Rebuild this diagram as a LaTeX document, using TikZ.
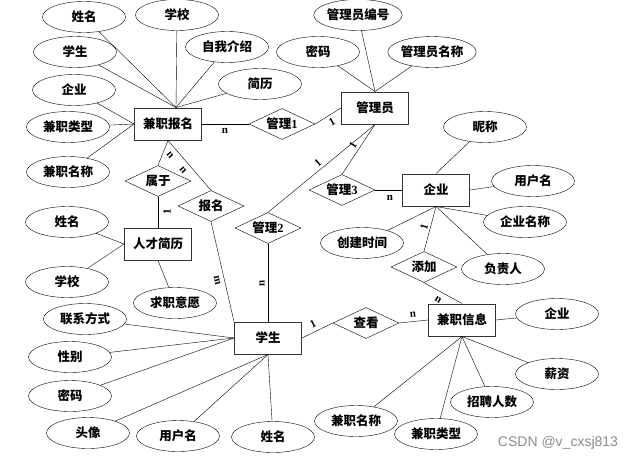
\documentclass[tikz,border=0pt]{standalone}
\usepackage{fontspec}
\setmainfont{Liberation Serif}
\setsansfont{Liberation Sans}
\newfontfamily\cjk{Noto Sans CJK SC}
\usetikzlibrary{shapes.geometric}
\tikzset{
x=1pt,y=-1pt,
line width=0.65pt, % all lines a little heavier than thin
er font/.style={font=\cjk\bfseries\fontsize{12.5}{14}\selectfont},
entity/.style={er font,draw=black!80,line width=1pt,rectangle,minimum width=67,minimum height=32,inner sep=1pt},
rel/.style={er font,draw,diamond,aspect=2,minimum width=66,minimum height=31,inner sep=0pt},
attr/.style={er font,draw,ellipse,minimum width=83,minimum height=31,inner sep=0pt},
card/.style={font=\rmfamily\bfseries\fontsize{11}{12}\selectfont,inner sep=0pt},
wmark/.style={font=\sffamily\fontsize{14}{16}\selectfont,text=black!45,inner sep=0pt}
}
\begin{document}
\begin{tikzpicture}
\fill[white] (0,0) rectangle (634,461);
\useasboundingbox (0,0) rectangle (634,461);
% entities
\node[entity] (bm)  at (168,124) {兼职报名};
\node[entity] (gly) at (375,108) {管理员};
\node[entity] (qy)  at (436,190) {企业};
\node[entity] (jl)  at (158,244) {人才简历};
\node[entity] (xs)  at (268,338) {学生};
\node[entity] (xx)  at (462,320) {兼职信息};
% relations
\node[rel] (gl1)  at (282,124) {管理\rmfamily 1};
\node[rel] (sy)   at (158,181) {属于};
\node[rel] (baom) at (211,206) {报名};
\node[rel] (gl2)  at (268,228) {管理\rmfamily 2};
\node[rel] (gl3)  at (342,190) {管理\rmfamily 3};
\node[rel] (tj)   at (424,267) {添加};
\node[rel] (ck)   at (366,323) {查看};
% attributes of 兼职报名
\node[attr] (bm1) at (84,17)  {姓名};
\node[attr] (bm2) at (177,15) {学校};
\node[attr] (bm3) at (227,47) {自我介绍};
\node[attr] (bm4) at (75,52)  {学生};
\node[attr] (bm5) at (260,84) {简历};
\node[attr] (bm6) at (74,90)  {企业};
\node[attr] (bm7) at (68,127) {兼职类型};
\node[attr] (bm8) at (68,172) {兼职名称};
% attributes of 管理员
\node[attr] (gly1) at (358,15) {管理员编号};
\node[attr] (gly2) at (318,52) {密码};
\node[attr] (gly3) at (432,52) {管理员名称};
% attributes of 企业
\node[attr] (qy1) at (485,127) {昵称};
\node[attr] (qy2) at (533,181) {用户名};
\node[attr] (qy3) at (525,222) {企业名称};
\node[attr] (qy4) at (362,243) {创建时间};
\node[attr] (qy5) at (503,269) {负责人};
% attributes of 人才简历
\node[attr] (jl1) at (67,222)  {姓名};
\node[attr] (jl2) at (67,282)  {学校};
\node[attr] (jl3) at (175,303) {求职意愿};
% attributes of 学生
\node[attr] (xs1) at (85,319)  {联系方式};
\node[attr] (xs2) at (70,357)  {性别};
\node[attr] (xs3) at (70,396)  {密码};
\node[attr] (xs4) at (88,433)  {头像};
\node[attr] (xs5) at (178,436) {用户名};
\node[attr] (xs6) at (273,437) {姓名};
% attributes of 兼职信息
\node[attr] (xx1) at (557,314) {企业};
\node[attr] (xx2) at (557,374) {薪资};
\node[attr] (xx3) at (492,402) {招聘人数};
\node[attr] (xx4) at (356,421) {兼职名称};
\node[attr] (xx5) at (436,434) {兼职类型};
% attribute lines
\foreach \a in {bm1,bm2,bm3,bm4,bm5}
  \draw (\a) -- ([xshift=8]bm.north);
\foreach \a in {bm6,bm7,bm8}
  \draw (\a) -- (bm.west);
\foreach \a in {gly1,gly2,gly3}
  \draw (\a) -- (gly.north);
\draw (qy1) -- (qy.north);
\draw (qy2) -- (qy.east);
\foreach \a in {qy3,qy4,qy5}
  \draw (\a) -- (qy.south);
\foreach \a in {jl1,jl2}
  \draw (\a) -- (jl.west);
\draw (jl3) -- (jl.south);
\foreach \a in {xs1,xs2,xs3}
  \draw (\a) -- (xs.west);
\foreach \a in {xs4,xs5,xs6}
  \draw (\a) -- (xs.south);
\draw (xx1) -- (xx.east);
\foreach \a in {xx2,xx3,xx4,xx5}
  \draw (\a) -- (xx.south);
% relation lines
\draw (bm.east) -- (gl1.west);
\draw (gl1.east) -- (gly.west);
\draw (gly.south) -- (gl2.north);
\draw (gly.south) -- (gl3.north);
\draw (gl3.east) -- (qy.west);
\draw (gl2.south) -- (xs.north);
\draw (bm.south) -- (sy.north);
\draw (bm.south) -- (baom.north);
\draw (sy.south) -- (jl.north);
\draw (baom.south) -- (xs.north west);
\draw (xs.east) -- (ck.west);
\draw (ck.east) -- (xx.west);
\draw (qy.south) -- (tj.north);
\draw (tj.south) -- (xx.north);
% cardinalities
\node[card] (c1)  at (225,131) {n};
\node[card,rotate=29] (c2) at (332,122) {1};
\node[card,rotate=40] (c3) at (318,163) {1};
\node[card,rotate=58] (c4) at (353,145) {1};
\node[card] (c5)  at (390,198) {n};
\node[card,rotate=90] (c6) at (262,283) {n};
\node[card,rotate=-50] (c7) at (170,155) {n};
\node[card,rotate=-50] (c8) at (183,170) {n};
\node[card,rotate=90] (c9) at (167,212) {1};
\node[card,rotate=-78] (c10) at (217,280) {m};
\node[card,rotate=26] (c11) at (313,324) {1};
\node[card,rotate=5] (c12) at (413,315) {n};
\node[card,rotate=75] (c13) at (424,227) {1};
\node[card,rotate=-31] (c14) at (438,300) {n};
\node[wmark] (wm) at (558,443) {CSDN @v\_cxsj813};
\end{tikzpicture}
\end{document}
